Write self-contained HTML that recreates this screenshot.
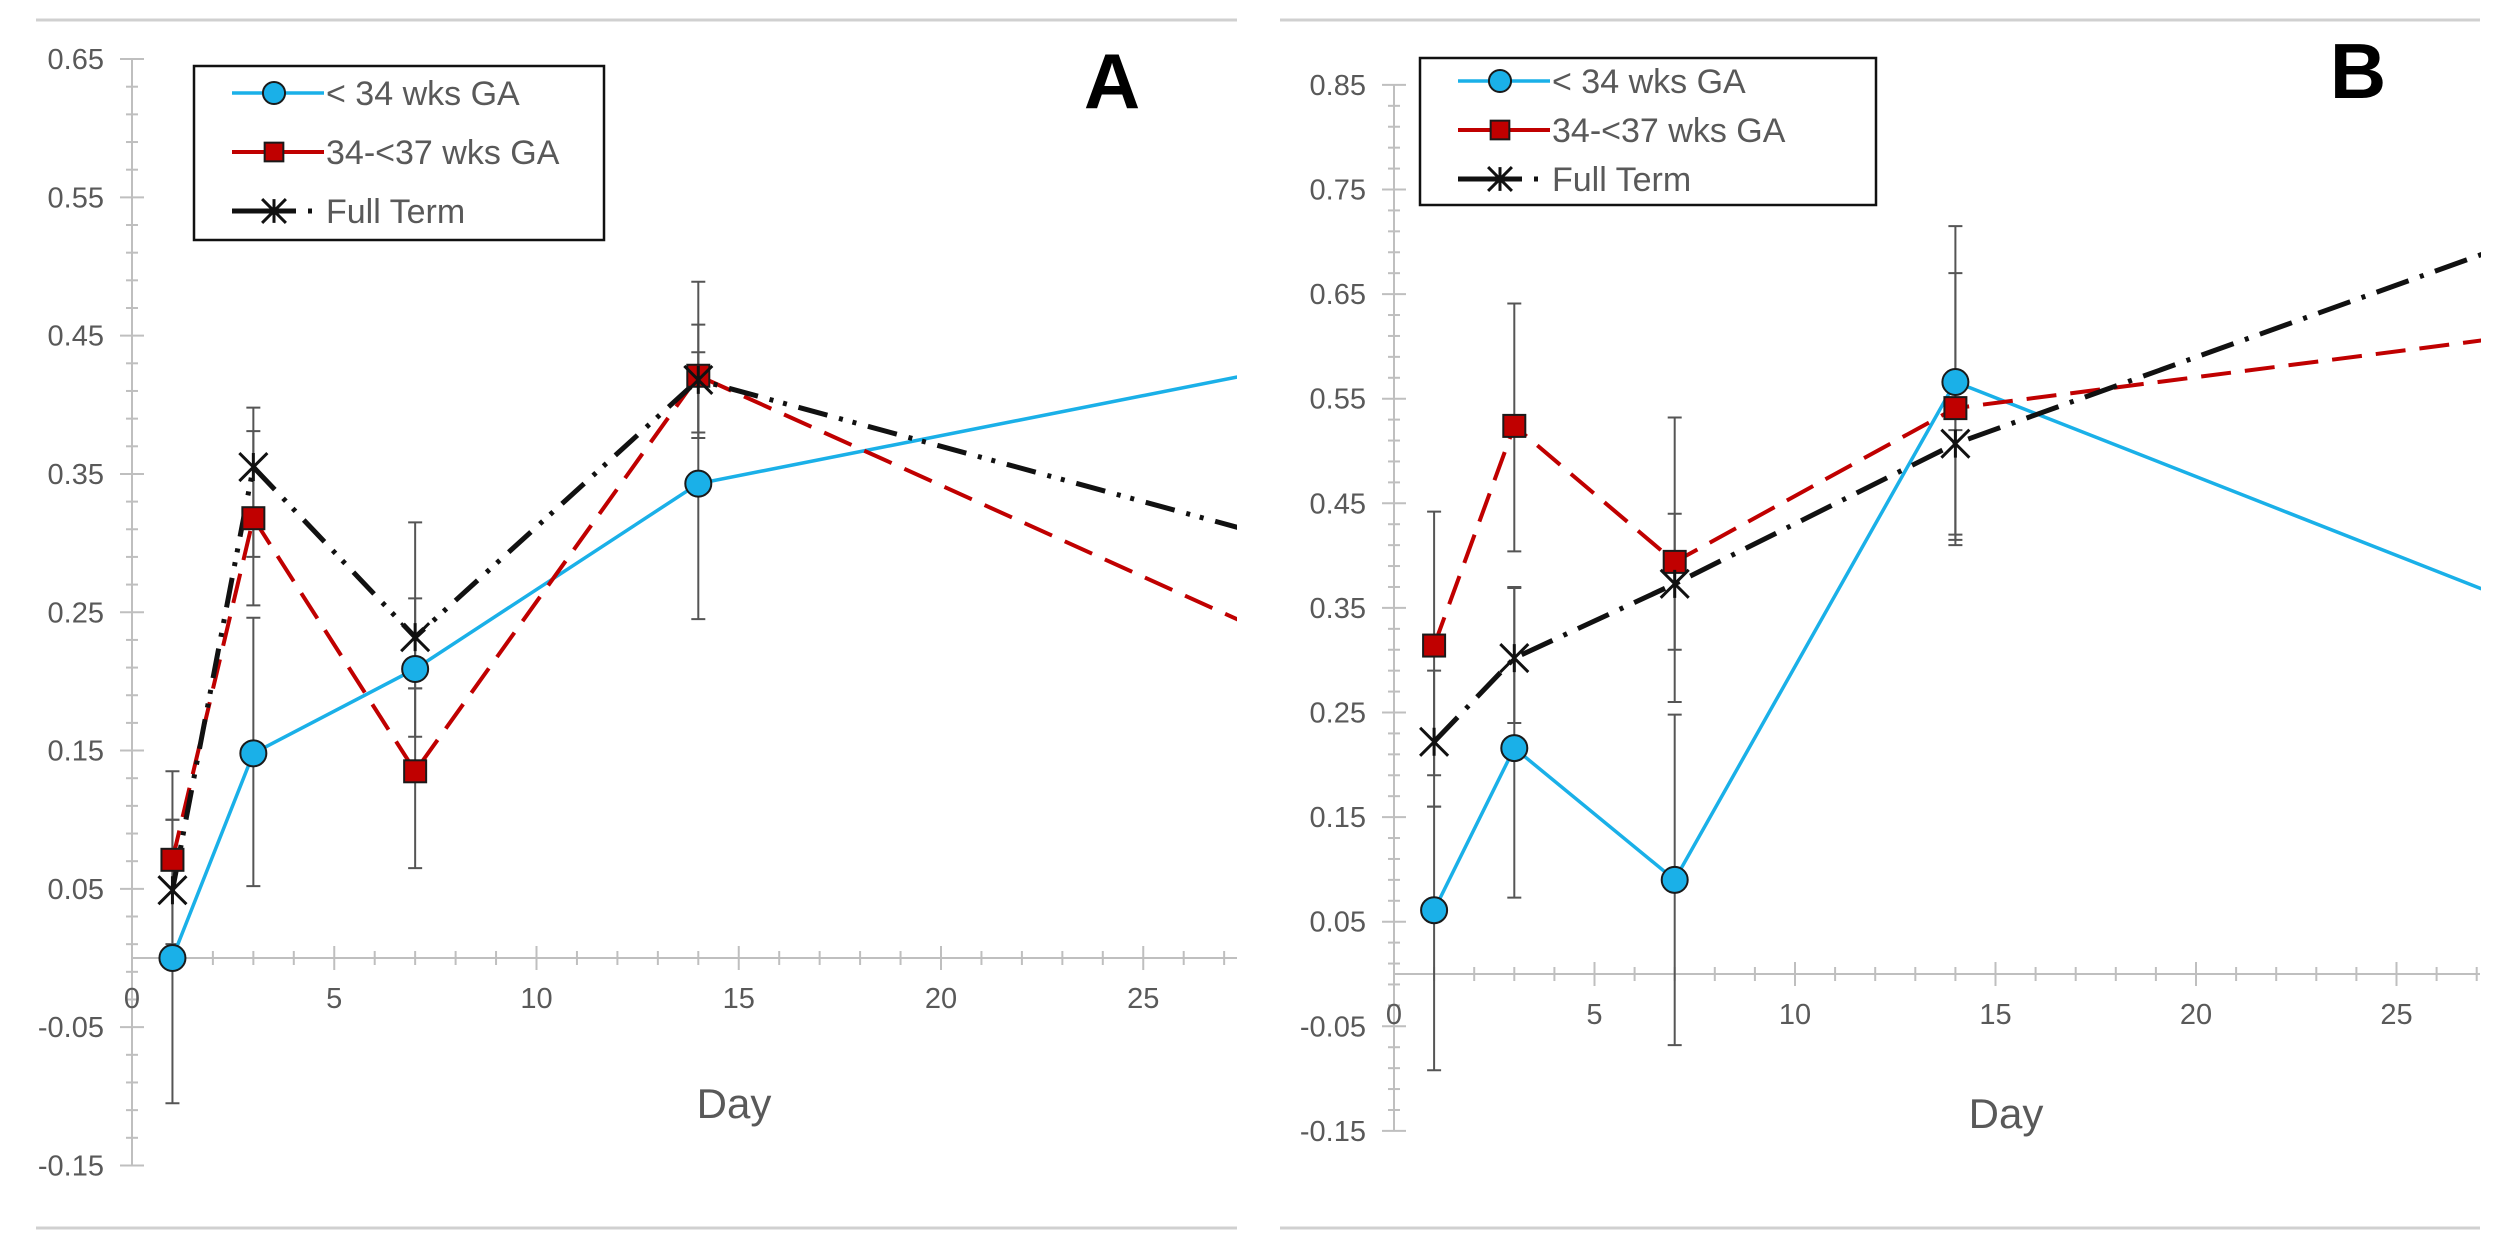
<!DOCTYPE html>
<html><head><meta charset="utf-8"><style>
html,body{margin:0;padding:0;background:#fff;}
svg{display:block;font-family:"Liberation Sans",Arial,sans-serif;}
</style></head><body>
<svg id="chart" width="2500" height="1242" viewBox="0 0 2500 1242">
<defs>
<clipPath id="clipA"><rect x="60" y="40" width="1177" height="1150"/></clipPath>
<clipPath id="clipB"><rect x="1300" y="40" width="1181" height="1150"/></clipPath>
</defs>
<line x1="36" y1="20" x2="1237" y2="20" stroke="#d0d0d0" stroke-width="3"/>
<line x1="36" y1="1228" x2="1237" y2="1228" stroke="#d0d0d0" stroke-width="3"/>
<line x1="1280" y1="20" x2="2480" y2="20" stroke="#d0d0d0" stroke-width="3"/>
<line x1="1280" y1="1228" x2="2480" y2="1228" stroke="#d0d0d0" stroke-width="3"/>
<g id="panelA"></g>
<g id="panelB"></g>
</svg>
<script>
const days = [1, 3, 7, 14, 28];
const xTicks = [0, 5, 10, 15, 20, 25];
// Panel A
const aYTicks = [-0.15, -0.05, 0.05, 0.15, 0.25, 0.35, 0.45, 0.55, 0.65];
const aBlue = [0.0, 0.148, 0.209, 0.343, 0.424];
const aBlueLo = [-0.105, 0.052, 0.16, 0.245, null];
const aBlueHi = [0.10, 0.246, 0.26, 0.438, null];
const aRed = [0.071, 0.318, 0.135, 0.421, 0.236];
const aRedLo = [0.01, 0.255, 0.065, 0.376, null];
const aRedHi = [0.135, 0.381, 0.195, 0.489, null];
const aBlack = [0.049, 0.355, 0.232, 0.418, 0.306];
const aBlackLo = [0.0, 0.29, 0.195, 0.38, null];
const aBlackHi = [0.10, 0.398, 0.315, 0.458, null];
// Panel B
const bYTicks = [-0.15, -0.05, 0.05, 0.15, 0.25, 0.35, 0.45, 0.55, 0.65, 0.75, 0.85];
const bBlue = [0.061, 0.216, 0.090, 0.566, 0.355];
const bBlueLo = [-0.092, 0.073, -0.068, 0.41, null];
const bBlueHi = [0.16, 0.369, 0.248, 0.67, null];
const bRed = [0.314, 0.524, 0.394, 0.541, 0.61];
const bRedLo = [0.19, 0.404, 0.31, 0.415, null];
const bRedHi = [0.442, 0.641, 0.532, 0.715, null];
const bBlack = [0.222, 0.302, 0.373, 0.507, 0.70];
const bBlackLo = [0.16, 0.24, 0.26, 0.42, null];
const bBlackHi = [0.29, 0.37, 0.44, 0.52, null];
const legendLabels = ["< 34 wks GA", "34-<37 wks GA", "Full Term"];

const NS = "http://www.w3.org/2000/svg";
function mk(parent, tag, attrs, text) {
  const e = document.createElementNS(NS, tag);
  for (const k in attrs) e.setAttribute(k, attrs[k]);
  if (text !== undefined) e.textContent = text;
  parent.appendChild(e);
  return e;
}
function marker(g, kind, cx, cy, big) {
  const s = big ? 1 : 0.85;
  let m;
  if (kind === 0) {
    m = mk(g, "circle", {cx: cx, cy: cy, r: 13 * s, fill: "#1ab0e8", stroke: "#1a1a1a", "stroke-width": 2});
  } else if (kind === 1) {
    const h = 11 * s;
    m = mk(g, "rect", {x: cx - h, y: cy - h, width: 2 * h, height: 2 * h, fill: "#c00000", stroke: "#1a1a1a", "stroke-width": 2});
  } else {
    const h = 14 * s;
    m = mk(g, "path", {d: `M${cx-h},${cy-h}L${cx+h},${cy+h}M${cx-h},${cy+h}L${cx+h},${cy-h}M${cx},${cy-h}L${cx},${cy+h}`, stroke: "#111", "stroke-width": 3, fill: "none"});
  }
  
  
}
function drawPanel(cfg) {
  const g = document.getElementById(cfg.id);
  const X = d => cfg.x0 + d * cfg.dayPx;
  const Y = v => cfg.y0 - v * cfg.tenthPx * 10;
  const yMin = cfg.yTicks[0], yMax = cfg.yTicks[cfg.yTicks.length - 1];
  const ax = mk(g, "line", {x1: cfg.x0, y1: Y(yMax), x2: cfg.x0, y2: Y(yMin), stroke: "#bfbfbf", "stroke-width": 2});
  
  
  for (let v = yMin; v <= yMax + 1e-9; v += 0.02) {
    const major = Math.abs(Math.round((v - yMin) * 100) % 10) < 1e-6;
    mk(g, "line", {x1: cfg.x0 - (major ? 12 : 6), y1: Y(v), x2: cfg.x0 + (major ? 12 : 6), y2: Y(v), stroke: "#bfbfbf", "stroke-width": 2});
  }
  cfg.yTicks.forEach(v => {
    const t = mk(g, "text", {x: cfg.x0 - 28, y: Y(v) + 10, "text-anchor": "end", "font-size": 29, fill: "#595959"}, v.toFixed(2));
    
    
  });
  const xa = mk(g, "line", {x1: cfg.x0, y1: Y(0), x2: cfg.xRight, y2: Y(0), stroke: "#bfbfbf", "stroke-width": 2});
  
  
  for (let d = 0; X(d) <= cfg.xRight; d++) {
    const major = d % 5 === 0;
    mk(g, "line", {x1: X(d), y1: Y(0) - (major ? 12 : 7), x2: X(d), y2: Y(0) + (major ? 12 : 7), stroke: "#bfbfbf", "stroke-width": 2});
  }
  xTicks.forEach(d => {
    const t = mk(g, "text", {x: X(d), y: Y(0) + 50, "text-anchor": "middle", "font-size": 29, fill: "#595959"}, String(d));
    
    
  });
  const xt = mk(g, "text", {x: cfg.dayX, y: cfg.dayY, "text-anchor": "middle", "font-size": 42, fill: "#595959"}, "Day");
  
  
  const pl = mk(g, "text", {x: cfg.labelX, y: cfg.labelY, "text-anchor": "middle", "font-size": 78, "font-weight": "bold", fill: "#000"}, cfg.label);
  
  

  const series = [
    {vals: cfg.blue, lo: cfg.blueLo, hi: cfg.blueHi, color: "#1ab0e8", w: 3.5, dash: "", name: "series-under-34"},
    {vals: cfg.red, lo: cfg.redLo, hi: cfg.redHi, color: "#c00000", w: 4, dash: "30,14", name: "series-34-37"},
    {vals: cfg.black, lo: cfg.blackLo, hi: cfg.blackHi, color: "#111", w: 5, dash: cfg.blackDash, name: "series-full-term"}
  ];
  const clip = mk(g, "g", {"clip-path": `url(#${cfg.clip})`});
  series.forEach(s => {
    days.forEach((d, i) => {
      if (s.lo[i] === null) return;
      const eb = mk(clip, "path", {d: `M${X(d)},${Y(s.lo[i])}V${Y(s.hi[i])}M${X(d)-7},${Y(s.lo[i])}h14M${X(d)-7},${Y(s.hi[i])}h14`, stroke: "#555", "stroke-width": 2, fill: "none"});
      
      
    });
  });
  series.forEach(s => {
    const pts = days.map((d, i) => `${X(d)},${Y(s.vals[i])}`).join(" ");
    const ln = mk(clip, "polyline", {points: pts, fill: "none", stroke: s.color, "stroke-width": s.w, "stroke-dasharray": s.dash});
    
    
  });
  series.forEach((s, k) => {
    days.forEach((d, i) => { if (i < 4) marker(clip, k, X(d), Y(s.vals[i]), true); });
  });
  const L = cfg.legend;
  const lg = mk(g, "g", {});
  
  
  mk(lg, "rect", {x: L.x, y: L.y, width: L.w, height: L.h, fill: "#fff", stroke: "#111", "stroke-width": 2.5});
  series.forEach((s, k) => {
    const cy = L.y + L.pad + k * L.step;
    const e = mk(lg, "g", {});
    
    
    mk(e, "line", {x1: L.x + 38, y1: cy, x2: L.x + 130, y2: cy, stroke: s.color, "stroke-width": s.w, "stroke-dasharray": k === 1 ? "40,12" : (k === 2 ? "64,12,4,12" : "")});
    marker(e, k, L.x + 80, cy, false);
    mk(e, "text", {x: L.x + 132, y: cy + 12, "font-size": 34, fill: "#595959"}, legendLabels[k]);
  });
}
drawPanel({id: "panelA", clip: "clipA", x0: 132, dayPx: 40.45, y0: 958, tenthPx: 138.3, xRight: 1237,
  yTicks: aYTicks, blue: aBlue, blueLo: aBlueLo, blueHi: aBlueHi, red: aRed, redLo: aRedLo, redHi: aRedHi,
  black: aBlack, blackLo: aBlackLo, blackHi: aBlackHi, blackDash: "30,12,4,10,4,12",
  dayX: 734, dayY: 1118, label: "A", labelX: 1112, labelY: 108,
  legend: {x: 194, y: 66, w: 410, h: 174, pad: 27, step: 59}});
drawPanel({id: "panelB", clip: "clipB", x0: 1394, dayPx: 40.1, y0: 974, tenthPx: 104.6, xRight: 2480,
  yTicks: bYTicks, blue: bBlue, blueLo: bBlueLo, blueHi: bBlueHi, red: bRed, redLo: bRedLo, redHi: bRedHi,
  black: bBlack, blackLo: bBlackLo, blackHi: bBlackHi, blackDash: "34,12,4,12",
  dayX: 2006, dayY: 1128, label: "B", labelX: 2358, labelY: 98,
  legend: {x: 1420, y: 58, w: 456, h: 147, pad: 23, step: 49}});
</script>
</body></html>
